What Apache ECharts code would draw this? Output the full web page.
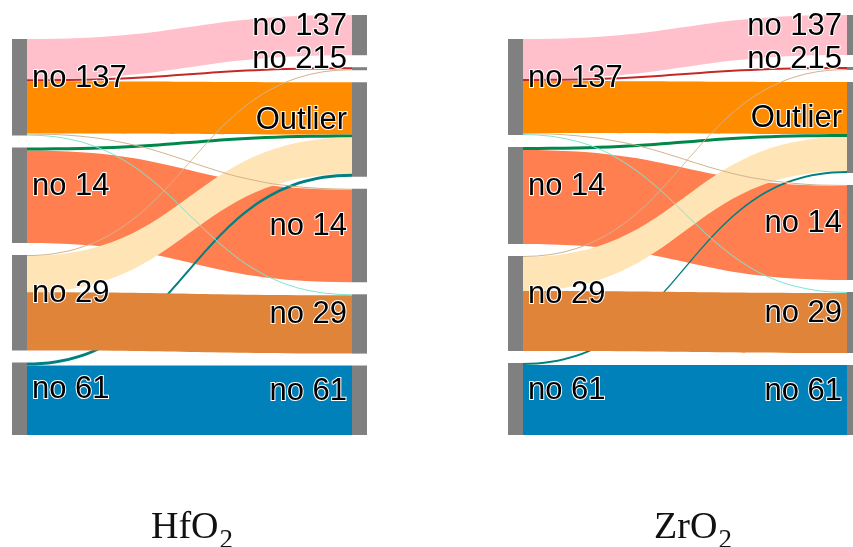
<!DOCTYPE html>
<html>
<head>
<meta charset="utf-8">
<script src="https://cdn.jsdelivr.net/npm/echarts@6/dist/echarts.min.js"></script>
<style>
  html, body { margin: 0; padding: 0; background: #ffffff; }
  #chart { width: 853px; height: 547px; }
</style>
</head>
<body>
<div id="chart"></div>
<script>
// Cluster labels before (left column) and after (right column) the reassignment
const sourceClusters = ['no 137', 'no 14', 'no 29', 'no 61'];
const targetClusters = ['no 137', 'no 215', 'Outlier', 'no 14', 'no 29', 'no 61'];

// One entry per flow; listed in drawing order (later flows are painted on top)
const flowFrom = ['no 137', 'no 137', 'no 14', 'no 14', 'no 29', 'no 61', 'no 29', 'no 61', 'no 137', 'no 137', 'no 137', 'no 29'];
const flowTo   = ['no 137', 'Outlier', 'no 14', 'Outlier', 'Outlier', 'Outlier', 'no 29', 'no 61', 'no 215', 'no 14', 'no 29', 'no 215'];

// Flow sizes for each material
const hfo2Flow = [40, 52, 92, 3, 36, 3, 58, 69, 2, 1, 1, 1];
const zro2Flow = [40, 52, 94, 3, 34, 2, 60, 70, 2, 1, 1, 1];

// Panel captions
const panelNames = ['HfO', 'ZrO'];
const panelSubscripts = ['2', '2'];

// Ribbon colours, matched to the flows above by position
const flowColors = ['#ffc0cb', '#ff8c00', '#ff7f50', '#00874a', '#ffe4b5', '#008080',
                    '#e0843a', '#0081ba', '#c62828', '#d2b48c', '#7fe5d0', '#d2b48c'];

const PANEL_HEIGHT = 420;
const NODE_GAP = 12;

const labelFont = {
  fontFamily: '"Liberation Sans", Arial, sans-serif',
  fontSize: 31,
  color: '#000000',
  textBorderColor: '#ffffff',
  textBorderWidth: 2,
  offset: [0, -9]
};

// The target column fills the panel; the shorter source column is
// anchored to the bottom edge, using the same value-to-pixel ratio.
function sourceOffsets(values) {
  const total = values.reduce(function (a, b) { return a + b; }, 0);
  const ky = (PANEL_HEIGHT - (targetClusters.length - 1) * NODE_GAP) / total;
  const out = sourceClusters.map(function (name) {
    let s = 0;
    values.forEach(function (v, i) { if (flowFrom[i] === name) s += v; });
    return s;
  });
  const offsets = new Array(sourceClusters.length);
  let y = PANEL_HEIGHT;
  for (let i = sourceClusters.length - 1; i >= 0; i--) {
    y -= out[i] * ky;
    offsets[i] = y / PANEL_HEIGHT;
    y -= NODE_GAP;
  }
  return offsets;
}

function buildNodes(values) {
  const offsets = sourceOffsets(values);
  const nodes = [];
  sourceClusters.forEach(function (n, i) {
    nodes.push({ name: 'A:' + n, localY: offsets[i], label: { position: 'right' } });
  });
  targetClusters.forEach(function (n) {
    nodes.push({ name: 'B:' + n, label: { position: 'left' } });
  });
  return nodes;
}

function buildLinks(values) {
  return values.map(function (v, i) {
    return {
      source: 'A:' + flowFrom[i],
      target: 'B:' + flowTo[i],
      value: v,
      lineStyle: { color: flowColors[i], opacity: 1 }
    };
  });
}

function sankeySeries(values, left, width) {
  return {
    type: 'sankey',
    left: left,
    top: 15,
    width: width,
    height: PANEL_HEIGHT,
    nodeWidth: 15,
    nodeGap: NODE_GAP,
    layoutIterations: 0,
    draggable: false,
    emphasis: { disabled: true },
    itemStyle: { color: '#808080', borderWidth: 0 },
    lineStyle: { curveness: 0.5, opacity: 1 },
    label: Object.assign({
      show: true,
      distance: 5,
      formatter: function (p) { return p.name.slice(2); }
    }, labelFont),
    data: buildNodes(values),
    links: buildLinks(values)
  };
}

function caption(i, centerX) {
  const serif = '"Liberation Serif", "DejaVu Serif", serif';
  return {
    text: '{m|' + panelNames[i] + '}{s|' + panelSubscripts[i] + '}',
    left: centerX,
    top: 498,
    textAlign: 'center',
    textStyle: {
      fontWeight: 'normal',
      rich: {
        m: { fontFamily: serif, fontSize: 38, fontWeight: 'normal', color: '#111111' },
        s: { fontFamily: serif, fontSize: 27, fontWeight: 'normal', color: '#111111', padding: [24, 0, 0, 1] }
      }
    }
  };
}

const chart = echarts.init(document.getElementById('chart'), null, { renderer: 'canvas' });
chart.setOption({
  backgroundColor: '#ffffff',
  animation: false,
  title: [caption(0, 187), caption(1, 688)],
  series: [
    sankeySeries(hfo2Flow, 12, 355),
    sankeySeries(zro2Flow, 508, 354)
  ]
});
</script>
</body>
</html>
